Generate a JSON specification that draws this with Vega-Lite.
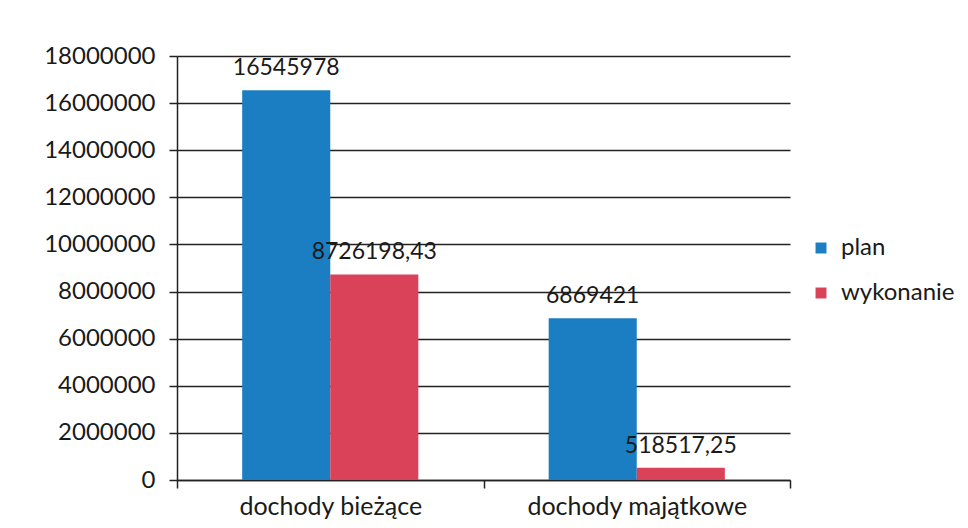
{
  "$schema": "https://vega.github.io/schema/vega-lite/v6.json",
  "autosize": "none",
  "width": 613,
  "height": 424,
  "padding": {"left": 177, "top": 56, "right": 178, "bottom": 48},
  "background": "white",
  "config": {
    "view": {"stroke": null},
    "font": "Lato",
    "axis": {"labelFont": "Lato", "labelColor": "#1a1a1a"},
    "legend": {"labelFont": "Lato", "labelColor": "#1a1a1a"}
  },
  "data": {
    "values": [
      {"cat": "dochody bieżące", "series": "plan", "value": 16545978, "label": "16545978"},
      {"cat": "dochody bieżące", "series": "wykonanie", "value": 8726198.43, "label": "8726198,43"},
      {"cat": "dochody majątkowe", "series": "plan", "value": 6869421, "label": "6869421"},
      {"cat": "dochody majątkowe", "series": "wykonanie", "value": 518517.25, "label": "518517,25"}
    ]
  },
  "encoding": {
    "x": {
      "field": "cat", "type": "nominal", "sort": null,
      "scale": {"padding": 0},
      "axis": {
        "title": null, "labelAngle": 0, "tickBand": "extent", "ticks": true, "tickSize": 8,
        "tickColor": "#222", "domainColor": "#222", "domainWidth": 1.5, "tickWidth": 1.5,
        "labelFontSize": 25, "labelPadding": 6, "grid": false, "labelLimit": 0
      }
    },
    "xOffset": {"field": "series", "type": "nominal", "scale": {"paddingInner": 0, "paddingOuter": 0.74}},
    "y": {
      "field": "value", "type": "quantitative",
      "scale": {"domain": [0, 18000000], "nice": false},
      "axis": {
        "title": null,
        "values": [0, 2000000, 4000000, 6000000, 8000000, 10000000, 12000000, 14000000, 16000000, 18000000],
        "format": "d", "labelFontSize": 24, "labelPadding": 14, "tickSize": 8,
        "tickColor": "#222", "domainColor": "#222", "domainWidth": 1.5, "tickWidth": 1.5,
        "gridColor": "#222", "gridWidth": 1.5
      }
    }
  },
  "layer": [
    {
      "mark": {"type": "bar"},
      "encoding": {
        "color": {
          "field": "series", "type": "nominal",
          "scale": {"domain": ["plan", "wykonanie"], "range": ["#1b7ec2", "#d94258"]},
          "legend": {
            "title": null, "orient": "none", "legendX": 632, "legendY": 180,
            "symbolType": "square", "symbolSize": 120, "labelFontSize": 24,
            "rowPadding": 21, "symbolStrokeWidth": 0, "labelOffset": 8
          }
        }
      }
    },
    {
      "mark": {"type": "text", "baseline": "bottom", "dy": -10, "fontSize": 23, "color": "#1a1a1a"},
      "encoding": {"text": {"field": "label"}}
    }
  ]
}
